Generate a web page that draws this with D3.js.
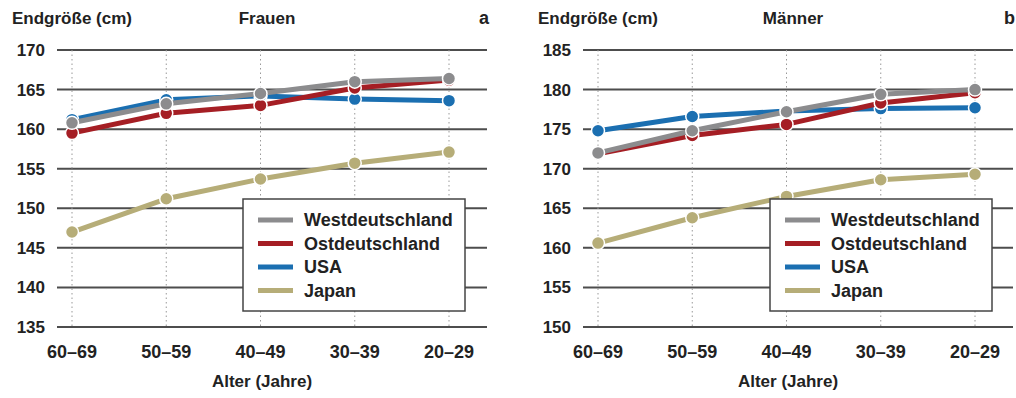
<!DOCTYPE html>
<html>
<head>
<meta charset="utf-8">
<script src="https://cdn.jsdelivr.net/npm/d3@7"></script>
<style>
  body { margin: 0; background: #fff; }
  text { font-family: "Liberation Sans Narrow", "Arial Narrow", "Liberation Sans", sans-serif; font-weight: bold; fill: #222; }
</style>
</head>
<body>
<div id="chart"></div>
<script>
// data
var ages = ['60–69', '50–59', '40–49', '30–39', '20–29'];
var seriesNames = ['Westdeutschland', 'Ostdeutschland', 'USA', 'Japan'];
var seriesColors = ['#8c8c8e', '#a51e24', '#1b6fb1', '#b6ad78'];

var frauenWest = [160.8, 163.2, 164.5, 166.0, 166.4];
var frauenOst  = [159.5, 162.0, 163.0, 165.2, 166.2];
var frauenUSA  = [161.2, 163.7, 164.2, 163.8, 163.6];
var frauenJap  = [147.0, 151.2, 153.7, 155.7, 157.1];

var maennerWest = [172.0, 174.8, 177.2, 179.4, 180.0];
var maennerOst  = [171.9, 174.2, 175.6, 178.3, 179.6];
var maennerUSA  = [174.8, 176.6, 177.3, 177.6, 177.7];
var maennerJap  = [160.6, 163.8, 166.5, 168.6, 169.3];

var frauenTicks = [135, 140, 145, 150, 155, 160, 165, 170];
var maennerTicks = [150, 155, 160, 165, 170, 175, 180, 185];

var svg = d3.select('#chart').append('svg')
  .attr('width', 1016)
  .attr('height', 398);

function drawPanel(opts){
  var g = svg.append('g').attr('transform', 'translate(' + opts.left + ',0)');
  var x = d3.scalePoint().domain(ages).range([15, 392]);
  var y = d3.scaleLinear().domain(opts.domain).range([327, 50]);
  var plotW = 430;

  // titles
  g.append('text').attr('x', -45).attr('y', 24).style('font-size', '17px').text('Endgröße (cm)');
  g.append('text').attr('x', 210).attr('y', 24).attr('text-anchor', 'middle').style('font-size', '17px').text(opts.title);
  g.append('text').attr('x', opts.letterX).attr('y', 24).attr('text-anchor', 'end').style('font-size', '18px').text(opts.letter);

  // horizontal grid
  g.selectAll('.hgrid').data(opts.ticks).enter().append('line')
    .attr('x1', 0).attr('x2', plotW)
    .attr('y1', function(d){ return y(d); }).attr('y2', function(d){ return y(d); })
    .attr('stroke', '#4d4d4d').attr('stroke-width', 2);

  // vertical dotted lines
  g.selectAll('.vgrid').data(ages).enter().append('line')
    .attr('x1', function(d){ return x(d); }).attr('x2', function(d){ return x(d); })
    .attr('y1', 50).attr('y2', 327)
    .attr('stroke', '#999').attr('stroke-width', 1).attr('stroke-dasharray', '1.5,3');

  // y labels
  g.selectAll('.ylab').data(opts.ticks).enter().append('text')
    .attr('x', -12).attr('y', function(d){ return y(d) + 6; })
    .attr('text-anchor', 'end').style('font-size', '17px')
    .text(function(d){ return d; });

  // x labels
  g.selectAll('.xlab').data(ages).enter().append('text')
    .attr('x', function(d){ return x(d); }).attr('y', 358)
    .attr('text-anchor', 'middle').style('font-size', '18px')
    .text(function(d){ return d; });
  g.append('text').attr('x', 205).attr('y', 387).attr('text-anchor', 'middle')
    .style('font-size', '17px').text('Alter (Jahre)');

  // lines, drawn back to front
  var line = d3.line().x(function(d, i){ return x(ages[i]); }).y(function(d){ return y(d); });
  var order = [3, 2, 1, 0];
  order.forEach(function(k){
    var vals = opts.series[k];
    g.append('path').datum(vals)
      .attr('d', line).attr('fill', 'none')
      .attr('stroke', seriesColors[k]).attr('stroke-width', 5)
      .attr('stroke-linejoin', 'round');
    g.selectAll('.pt' + k).data(vals).enter().append('circle')
      .attr('cx', function(d, i){ return x(ages[i]); })
      .attr('cy', function(d){ return y(d); })
      .attr('r', 6.5)
      .attr('fill', seriesColors[k])
      .attr('stroke', '#fff').attr('stroke-width', 1.5);
  });

  // legend
  var lg = g.append('g').attr('transform', 'translate(' + opts.legend[0] + ',' + opts.legend[1] + ')');
  lg.append('rect').attr('width', 222).attr('height', 112)
    .attr('fill', '#fff').attr('stroke', '#444').attr('stroke-width', 1.5);
  seriesNames.forEach(function(n, i){
    var ly = 21 + i * 23.5;
    lg.append('line').attr('x1', 15).attr('x2', 50).attr('y1', ly).attr('y2', ly)
      .attr('stroke', seriesColors[i]).attr('stroke-width', 5);
    lg.append('text').attr('x', 61).attr('y', ly + 6).style('font-size', '18px').text(n);
  });
}

drawPanel({
  left: 57, domain: [135, 170], ticks: frauenTicks, title: 'Frauen', letter: 'a', letterX: 432,
  series: [frauenWest, frauenOst, frauenUSA, frauenJap], legend: [186, 199]
});
drawPanel({
  left: 583, domain: [150, 185], ticks: maennerTicks, title: 'Männer', letter: 'b', letterX: 432,
  series: [maennerWest, maennerOst, maennerUSA, maennerJap], legend: [187, 199]
});
</script>
</body>
</html>
